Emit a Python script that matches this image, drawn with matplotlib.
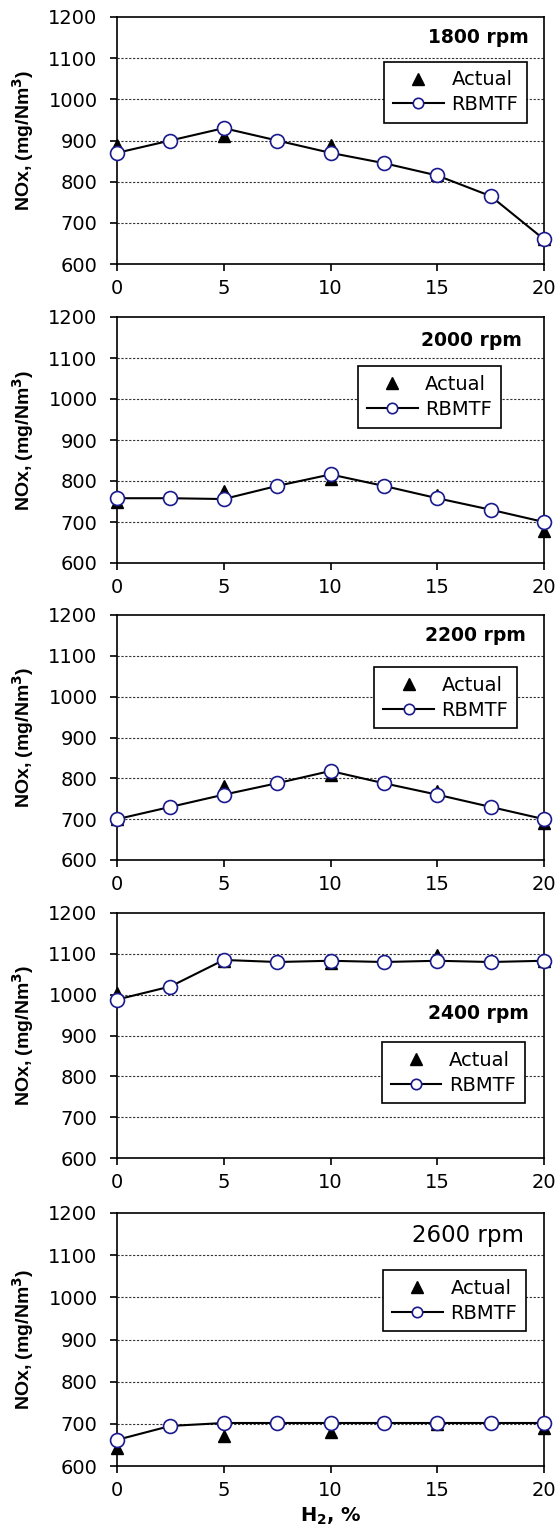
import numpy as np
from matplotlib import pyplot as plt

plt.rcParams['font.family'] = ['DejaVu Sans']

# hydrogen share, %
x_model = [0, 2.5, 5, 7.5, 10, 12.5, 15, 17.5, 20]
x_actual = [0, 5, 10, 15, 20]

speeds = ['1800 rpm', '2000 rpm', '2200 rpm', '2400 rpm', '2600 rpm']

rbmtf_1800 = [870, 900, 930, 900, 870, 845, 815, 765, 660]
actual_1800 = [890, 910, 890, 815, 660]
rbmtf_2000 = [758, 758, 756, 788, 816, 788, 758, 730, 700]
actual_2000 = [750, 775, 805, 765, 678]
rbmtf_2200 = [700, 730, 760, 788, 818, 788, 760, 730, 700]
actual_2200 = [700, 780, 808, 770, 690]
rbmtf_2400 = [988, 1020, 1085, 1080, 1083, 1080, 1083, 1080, 1083]
actual_2400 = [1005, 1082, 1078, 1098, 1083]
rbmtf_2600 = [662, 695, 702, 702, 702, 702, 702, 702, 702]
actual_2600 = [642, 672, 680, 700, 690]

rbmtf = [rbmtf_1800, rbmtf_2000, rbmtf_2200, rbmtf_2400, rbmtf_2600]
actual = [actual_1800, actual_2000, actual_2200, actual_2400, actual_2600]

# layout (pixels of a 559x1528 canvas)
W, H = 559, 1528
left, right = 117, 544
tops = [17, 317, 615, 913, 1213]
bottoms = [264, 563, 860, 1158, 1466]
# legend top-left corner in axes fraction
leg_pos = [(0.626, 0.819), (0.565, 0.800), (0.603, 0.788),
           (0.621, 0.473), (0.624, 0.775)]
title_pos = [(0.965, 0.915), (0.949, 0.906), (0.958, 0.918),
             (0.965, 0.590), (0.953, 0.913)]


def main():
    fig = plt.figure(figsize=(W / 100, H / 100), dpi=100)
    for i in range(5):
        ax = fig.add_axes([left / W, 1 - bottoms[i] / H,
                           (right - left) / W, (bottoms[i] - tops[i]) / H])
        ax.plot(x_actual, actual[i], linestyle='none', marker='^',
                color='black', markersize=9, label='Actual', zorder=3,
                clip_on=False)
        ax.plot(x_model, rbmtf[i], color='black', lw=1.5, marker='o',
                markersize=10, markerfacecolor='white',
                markeredgecolor='#1a1a8c', markeredgewidth=1.2,
                label='RBMTF', zorder=4, clip_on=False)
        ax.set_xlim(0, 20)
        ax.set_ylim(600, 1200)
        ax.set_xticks([0, 5, 10, 15, 20])
        ax.set_yticks(range(600, 1201, 100))
        for yv in range(700, 1101, 100):
            ax.axhline(yv, color='#333333', lw=0.8, ls=(0, (2, 1.5)), zorder=1)
        ax.tick_params(labelsize=14, length=5, width=1.2, direction='out')
        ax.tick_params(axis='x', pad=6)
        ax.tick_params(axis='y', pad=9)
        for s in ax.spines.values():
            s.set_linewidth(1.2)
        ax.set_ylabel('NOx, (mg/Nm$^\\mathbf{3}$)', fontsize=14,
                      fontweight='bold', family='Liberation Sans', labelpad=9)

        x0, y0 = leg_pos[i]
        leg = ax.legend(loc='upper left', bbox_to_anchor=(x0, y0),
                        borderaxespad=0, fontsize=14, frameon=True,
                        fancybox=False, edgecolor='black', framealpha=1,
                        handlelength=2.6, handletextpad=0.4, borderpad=0.45,
                        labelspacing=0.3)
        leg.get_frame().set_linewidth(1.2)
        leg.legend_handles[0].set_markersize(9)
        leg.legend_handles[1].set_markersize(7.5)

        tx, ty = title_pos[i]
        ax.text(tx, ty, speeds[i], transform=ax.transAxes, ha='right',
                va='center', fontsize=13.5 if i < 4 else 16.5,
                fontweight='bold' if i < 4 else 'normal')
        if i == 4:
            ax.set_xlabel('H$_\\mathbf{2}$, %', fontsize=14, fontweight='bold',
                          labelpad=4)

    plt.savefig('out.png', dpi=100)


if __name__ == "__main__":
    main()
